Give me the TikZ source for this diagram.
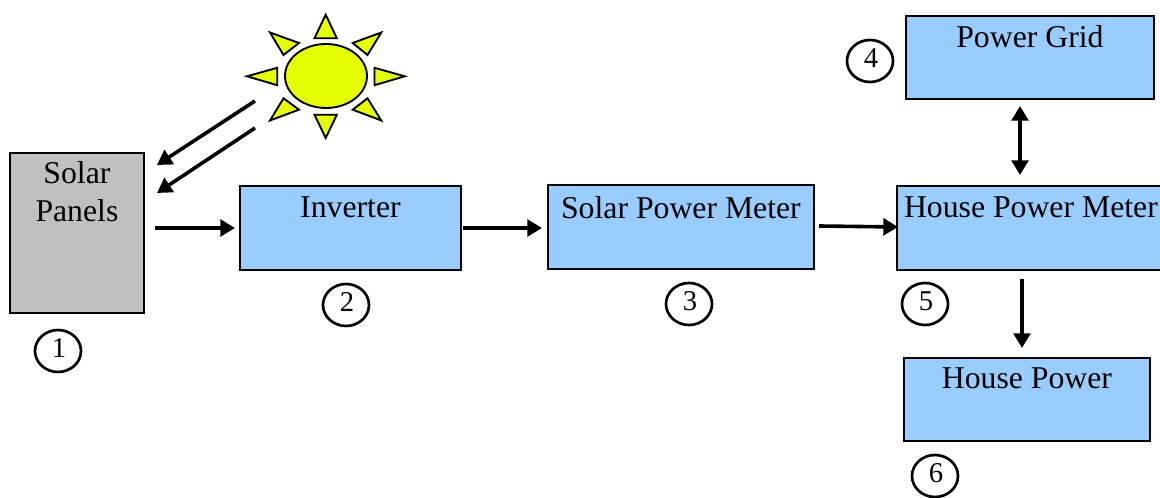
\documentclass[tikz,border=0pt]{standalone}
\usepackage{fontspec}
\setmainfont{Liberation Serif}
\usetikzlibrary{arrows.meta,shapes.geometric}
\definecolor{boxblue}{HTML}{99CCFF}
\definecolor{panelgray}{HTML}{C0C0C0}
\definecolor{sunyellow}{HTML}{E6FF00}
\tikzset{
  x=0.75pt,y=-0.75pt,
  box/.style={draw=black,line width=1.4pt,fill=boxblue,anchor=north west,inner sep=0pt,align=center,
    font=\fontsize{23.8}{28.5}\selectfont,execute at begin node={\spaceskip=0.25em\relax},text height=24pt},
  tag/.style={draw=black,line width=2pt,ellipse,fill=white,inner sep=0pt,minimum width=34.5pt,minimum height=31.5pt,
    font=\fontsize{21.5}{24}\selectfont,text height=15pt,text depth=4.5pt,execute at begin node={\kern1.5pt}},
  flow/.style={line width=2.7pt,draw=black,-{Triangle[length=11pt,width=12.5pt]}},
  flowboth/.style={line width=2.7pt,draw=black,{Triangle[length=11pt,width=12.5pt]}-{Triangle[length=11pt,width=12.5pt]}},
  sunpart/.style={draw=black,line width=1.4pt,fill=sunyellow,line join=miter}
}
\begin{document}
\begin{tikzpicture}
\useasboundingbox (0,0) rectangle (1160,498);
% boxes
\node[box,fill=panelgray,text width=100.5pt,text depth=97pt,text height=23.25pt] (panels) at (9,152) {Solar\\Panels};
\node[box,text width=165.75pt,text depth=39pt] (inverter) at (239,185) {Inverter};
\node[box,text width=199.5pt,text depth=37.5pt,text height=25.5pt] (smeter) at (547,184) {Solar Power Meter};
\node[box,text width=186pt,text depth=38.25pt] (grid) at (905,15) {Power Grid};
\node[box,text width=201pt,text depth=39pt] (hmeter) at (896,185) {House Power Meter};
\node[box,text width=184.5pt,text depth=39pt,text height=23.25pt] (house) at (903,357) {House Power};
% number tags
\node[tag] (t1) at (58,351) {1};
\node[tag] (t2) at (346,305) {2};
\node[tag] (t3) at (689,304) {3};
\node[tag] (t4) at (870,61) {4};
\node[tag] (t5) at (925,304) {5};
\node[tag] (t6) at (935,476) {6};
% sun
\node[sunpart,ellipse,inner sep=0pt,minimum width=61.5pt,minimum height=48pt] (sun) at (326,76) {};
\draw[sunpart] (325.7,14.7) -- (314.5,38.2) -- (336.8,38.2) -- cycle;
\draw[sunpart] (325.7,138) -- (314.5,114.8) -- (336.8,114.8) -- cycle;
\draw[sunpart] (404.7,76.3) -- (374.5,67.8) -- (374.5,85.2) -- cycle;
\draw[sunpart] (247,76.3) -- (277.2,67.8) -- (277.2,85.2) -- cycle;
\draw[sunpart] (270,32.5) -- (299,43) -- (283.5,55) -- cycle;
\draw[sunpart] (381.3,32.5) -- (352.7,43) -- (367.5,55) -- cycle;
\draw[sunpart] (270,120.5) -- (283.5,98.3) -- (299,109.7) -- cycle;
\draw[sunpart] (381.3,120.5) -- (367.5,98.3) -- (352.7,109.7) -- cycle;
% free ends of the rays and gapped connectors
\coordinate (ray1s) at (255,101);
\coordinate (ray1e) at (157,165);
\coordinate (ray2s) at (255,128);
\coordinate (ray2e) at (157,193);
\coordinate (a1s) at (155,228);
\coordinate (a1e) at (235,228);
\coordinate (a2s) at (463,228);
\coordinate (a2e) at (542,228);
\coordinate (a3s) at (819,226);
\coordinate (a3e) at (898,227);
\coordinate (a4s) at (1020,106);
\coordinate (a4e) at (1020,175);
\coordinate (a5s) at (1022,279);
\coordinate (a5e) at (1022,348);
% connectors
\draw[flow] (ray1s) -- (ray1e);
\draw[flow] (ray2s) -- (ray2e);
\draw[flow] (a1s) -- (a1e);
\draw[flow] (a2s) -- (a2e);
\draw[flow] (a3s) -- (a3e);
\draw[flowboth] (a4s) -- (a4e);
\draw[flow] (a5s) -- (a5e);
\end{tikzpicture}
\end{document}
